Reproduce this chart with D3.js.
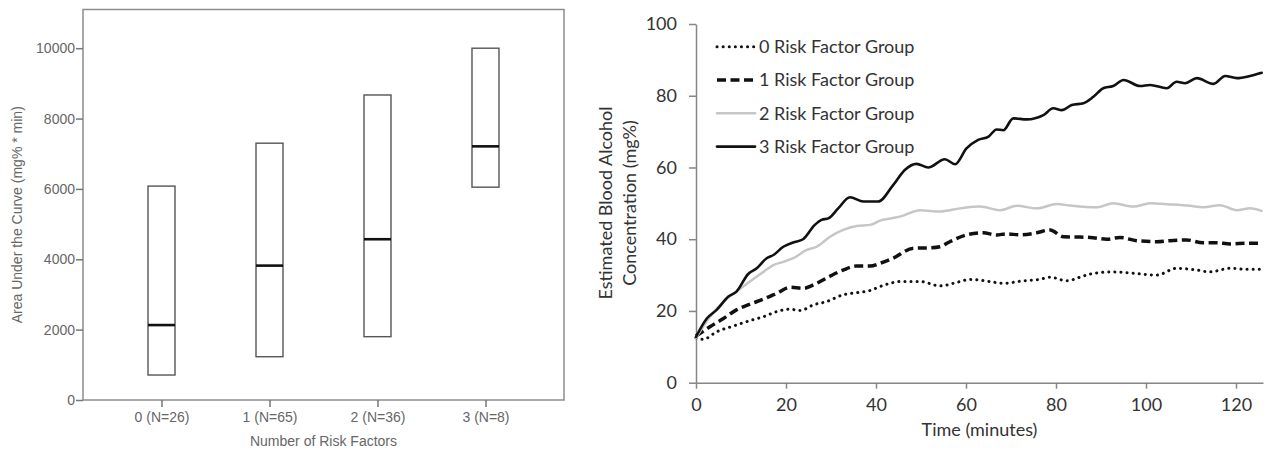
<!DOCTYPE html>
<html>
<head>
<meta charset="utf-8">
<script src="https://cdn.jsdelivr.net/npm/d3@7.9.0/dist/d3.min.js"></script>
<style>
  html, body { margin: 0; padding: 0; background: #fff; }
  svg { display: block; }
  .left text { font-family: 'Liberation Sans', Arial, sans-serif; fill: #666; }
  .right text { font-family: Lato, 'Open Sans', sans-serif; fill: #333; }
</style>
</head>
<body>
<div id="chart"></div>
<script>
// ---- left panel: area under the curve by number of risk factors ----
const groups = ['0 (N=26)', '1 (N=65)', '2 (N=36)', '3 (N=8)'];
const boxLow = [710, 1230, 1800, 6050];
const boxMedian = [2130, 3820, 4570, 7210];
const boxHigh = [6080, 7300, 8670, 10000];
const aucTicks = [0, 2000, 4000, 6000, 8000, 10000];

// ---- right panel: estimated BAC over time, [minute, mg%] ----
const riskLabels = ['0 Risk Factor Group', '1 Risk Factor Group', '2 Risk Factor Group', '3 Risk Factor Group'];

const risk0 = [[0,12.5],[1.6,12.1],[4.6,14.2],[8.3,15.8],[12,17.3],[15,18.4],[17.9,19.8],[20.9,20.5],
  [23.1,20.1],[26.1,21.7],[29,22.6],[32.7,24.5],[35.7,25.1],[38.7,25.7],[40.9,26.8],[43.1,27.7],
  [45.3,28.2],[49.8,28.2],[54.2,27],[58.7,28.2],[60.9,28.8],[65.3,28.2],[68.3,27.7],[72.7,28.4],
  [76.4,28.8],[78.7,29.4],[82.4,28.4],[85.3,29.4],[87.6,30.3],[92.7,30.9],[97.2,30.5],[102.4,30],
  [106.8,31.9],[111.3,31.4],[114.2,30.9],[118.7,31.9],[122.4,31.6],[125.7,31.6]];

const risk1 = [[0,13],[3.1,15.6],[6.1,17.9],[9,20.3],[12,21.9],[15,23.3],[17.9,24.9],[20.9,26.6],
  [23.8,26.3],[26.8,27.7],[29.8,29.7],[32.7,31.4],[35.7,32.5],[38.7,32.5],[40.9,33.3],[43.8,34.7],
  [48.3,37.5],[52,37.6],[54.2,37.9],[56.4,39.3],[60.1,41.2],[63.8,41.8],[66.8,41.2],[69,41.5],
  [72,41.2],[75.7,41.8],[78.7,42.6],[81.6,40.7],[85.3,40.6],[87.6,40.5],[91.3,40],[94.2,40.5],
  [97.9,39.6],[102.4,39.3],[105.3,39.6],[109,39.8],[112.7,39],[115.7,39],[118.7,38.7],[122.4,38.9],
  [125.7,38.9]];

const risk2 = [[0,12.5],[3.1,18.4],[6.1,22.6],[9,25.4],[12,28.2],[15,30.9],[17.2,32.8],[19.4,33.7],
  [21.6,34.7],[24.6,37],[26.8,37.9],[29.8,40.7],[32.7,42.6],[35.7,43.7],[38.7,44],[40.9,45.2],
  [43.1,45.8],[45.3,46.3],[49.8,48.1],[54.2,47.7],[58.7,48.6],[63.1,49.1],[67.6,48.1],[71.3,49.3],
  [75.7,48.6],[80.2,49.8],[83.1,49.4],[89,48.9],[92.7,50],[97.2,49.1],[100.9,50],[105.3,49.7],
  [109.8,49.3],[112.7,48.9],[116.4,49.5],[120.2,48.1],[123.1,48.6],[125.7,47.9]];

const risk3 = [[0,12.8],[2.4,17.9],[4.6,20.3],[7.2,24],[9,25.4],[11.6,30.3],[13.5,31.9],[15.7,34.7],
  [17.2,35.6],[19.4,37.9],[21.6,39.1],[23.8,40],[26.4,44],[27.9,45.4],[29.4,45.8],[31.6,48.6],
  [34.2,51.7],[37.2,50.5],[40.5,50.5],[43.8,55.1],[46.4,59.3],[49,61],[51.6,60],[55.3,62.3],
  [57.6,60.9],[60.1,65.3],[62.7,67.7],[65,68.6],[66.8,70.6],[68.3,70.4],[70.5,73.7],[73.5,73.4],
  [77.2,74.6],[79.4,76.5],[81.3,76],[83.5,77.4],[86.1,77.9],[88.3,79.7],[90.5,82.1],[92.7,82.7],
  [95,84.4],[98.7,82.7],[100.9,83],[104.6,82.1],[106.8,83.9],[108.7,83.5],[111.3,84.9],[115,83.3],
  [117.6,85.5],[120.2,84.9],[123.1,85.5],[125.7,86.4]];

const minuteTicks = [0, 20, 40, 60, 80, 100, 120];
const bacTicks = [0, 20, 40, 60, 80, 100];

const width = 1271;
const height = 453;

const svg = d3.select('#chart')
  .append('svg')
  .attr('width', width)
  .attr('height', height);

function renderBoxChart() {
  const frame = { left: 83, right: 564, top: 9.5, bottom: 400 };
  const g = svg.append('g').attr('class', 'left');

  const x = d3.scalePoint()
    .domain(groups)
    .range([frame.left, frame.right])
    .padding(0.727);

  const y = d3.scaleLinear()
    .domain([0, 11100])
    .range([frame.bottom, frame.top]);

  const boxW = 27;

  // frame
  g.append('rect')
    .attr('x', frame.left)
    .attr('y', frame.top)
    .attr('width', frame.right - frame.left)
    .attr('height', frame.bottom - frame.top)
    .attr('fill', 'none')
    .attr('stroke', '#8c8c8c')
    .attr('stroke-width', 1.5);

  // y axis
  const yAxis = g.append('g')
    .attr('transform', `translate(${frame.left},0)`)
    .call(d3.axisLeft(y).tickValues(aucTicks).tickSize(7).tickPadding(1).tickFormat(d3.format('d')));
  yAxis.select('.domain').remove();
  yAxis.selectAll('line').attr('stroke', '#777').attr('stroke-width', 1.5);
  yAxis.selectAll('text').style('font-size', '14px').attr('fill', '#666');

  // x axis
  const xAxis = g.append('g')
    .attr('transform', `translate(0,${frame.bottom})`)
    .call(d3.axisBottom(x).tickSize(7).tickPadding(5));
  xAxis.select('.domain').remove();
  xAxis.selectAll('line').attr('stroke', '#777').attr('stroke-width', 1.5);
  xAxis.selectAll('text').style('font-size', '14px').attr('fill', '#666');

  const boxes = g.append('g')
    .selectAll('g')
    .data(groups)
    .join('g');

  boxes.append('rect')
    .attr('x', d => x(d) - boxW / 2)
    .attr('y', (d, i) => y(boxHigh[i]))
    .attr('width', boxW)
    .attr('height', (d, i) => y(boxLow[i]) - y(boxHigh[i]))
    .attr('fill', 'none')
    .attr('stroke', '#555')
    .attr('stroke-width', 1.4);

  boxes.append('line')
    .attr('x1', d => x(d) - boxW / 2)
    .attr('x2', d => x(d) + boxW / 2)
    .attr('y1', (d, i) => y(boxMedian[i]))
    .attr('y2', (d, i) => y(boxMedian[i]))
    .attr('stroke', '#111')
    .attr('stroke-width', 2.6);

  g.append('text')
    .attr('transform', `translate(22,${(frame.top + frame.bottom) / 2 + 10}) rotate(-90)`)
    .attr('text-anchor', 'middle')
    .style('font-size', '14px')
    .text('Area Under the Curve (mg% * min)');

  g.append('text')
    .attr('x', (frame.left + frame.right) / 2)
    .attr('y', 446)
    .attr('text-anchor', 'middle')
    .style('font-size', '14px')
    .text('Number of Risk Factors');
}

function renderLineChart() {
  const area = { left: 696, right: 1263, top: 24, bottom: 382.7 };
  const g = svg.append('g').attr('class', 'right');

  const x = d3.scaleLinear().domain([0, 126]).range([area.left, area.right]);
  const y = d3.scaleLinear().domain([0, 100]).range([area.bottom, area.top]);

  const axisColor = '#868686';

  const yAxis = g.append('g')
    .attr('transform', `translate(${area.left},0)`)
    .call(d3.axisLeft(y).tickValues(bacTicks).tickSize(7).tickPadding(12).tickSizeOuter(0));
  yAxis.select('.domain').attr('stroke', axisColor).attr('stroke-width', 1.5);
  yAxis.selectAll('line').attr('stroke', axisColor).attr('stroke-width', 1.5);
  yAxis.selectAll('text').style('font-size', '18px').attr('fill', '#333');

  const xAxis = g.append('g')
    .attr('transform', `translate(0,${area.bottom})`)
    .call(d3.axisBottom(x).tickValues(minuteTicks).tickSize(6).tickPadding(10).tickSizeOuter(0));
  xAxis.select('.domain').attr('stroke', axisColor).attr('stroke-width', 1.5);
  xAxis.selectAll('line').attr('stroke', axisColor).attr('stroke-width', 1.5);
  xAxis.selectAll('text').style('font-size', '18px').attr('fill', '#333');

  const styles = [
    { stroke: '#111', width: 3, dash: '0.1 6', cap: 'round' },
    { stroke: '#111', width: 3.5, dash: '9 4.5', cap: 'butt' },
    { stroke: '#c6c6c6', width: 2.5, dash: null, cap: 'round' },
    { stroke: '#111', width: 2.6, dash: null, cap: 'round' },
  ];
  const series = [risk0, risk1, risk2, risk3];

  const line = d3.line()
    .x(d => x(d[0]))
    .y(d => y(d[1]))
    .curve(d3.curveMonotoneX);

  g.append('g')
    .selectAll('path')
    .data(series)
    .join('path')
    .attr('d', line)
    .attr('fill', 'none')
    .attr('stroke', (d, i) => styles[i].stroke)
    .attr('stroke-width', (d, i) => styles[i].width)
    .attr('stroke-dasharray', (d, i) => styles[i].dash)
    .attr('stroke-linecap', (d, i) => styles[i].cap)
    .attr('stroke-linejoin', 'round');

  // legend
  const legend = g.append('g')
    .selectAll('g')
    .data(riskLabels)
    .join('g')
    .attr('transform', (d, i) => `translate(717,${46.7 + i * 33.3})`);

  legend.append('line')
    .attr('x1', 0)
    .attr('x2', 38)
    .attr('stroke', (d, i) => styles[i].stroke)
    .attr('stroke-width', (d, i) => styles[i].width)
    .attr('stroke-dasharray', (d, i) => styles[i].dash)
    .attr('stroke-linecap', (d, i) => styles[i].cap);

  legend.append('text')
    .attr('x', 42)
    .attr('dy', '0.35em')
    .style('font-size', '18px')
    .text(d => d);

  // axis titles
  const yTitle = g.append('text')
    .attr('transform', `translate(618,203) rotate(-90)`)
    .attr('text-anchor', 'middle')
    .style('font-size', '18px');
  yTitle.append('tspan').attr('x', 0).attr('dy', '-0.35em').text('Estimated Blood Alcohol');
  yTitle.append('tspan').attr('x', 0).attr('dy', '1.35em').text('Concentration (mg%)');

  g.append('text')
    .attr('x', (area.left + area.right) / 2)
    .attr('y', 436)
    .attr('text-anchor', 'middle')
    .style('font-size', '18px')
    .text('Time (minutes)');
}

renderBoxChart();
renderLineChart();
</script>
</body>
</html>
